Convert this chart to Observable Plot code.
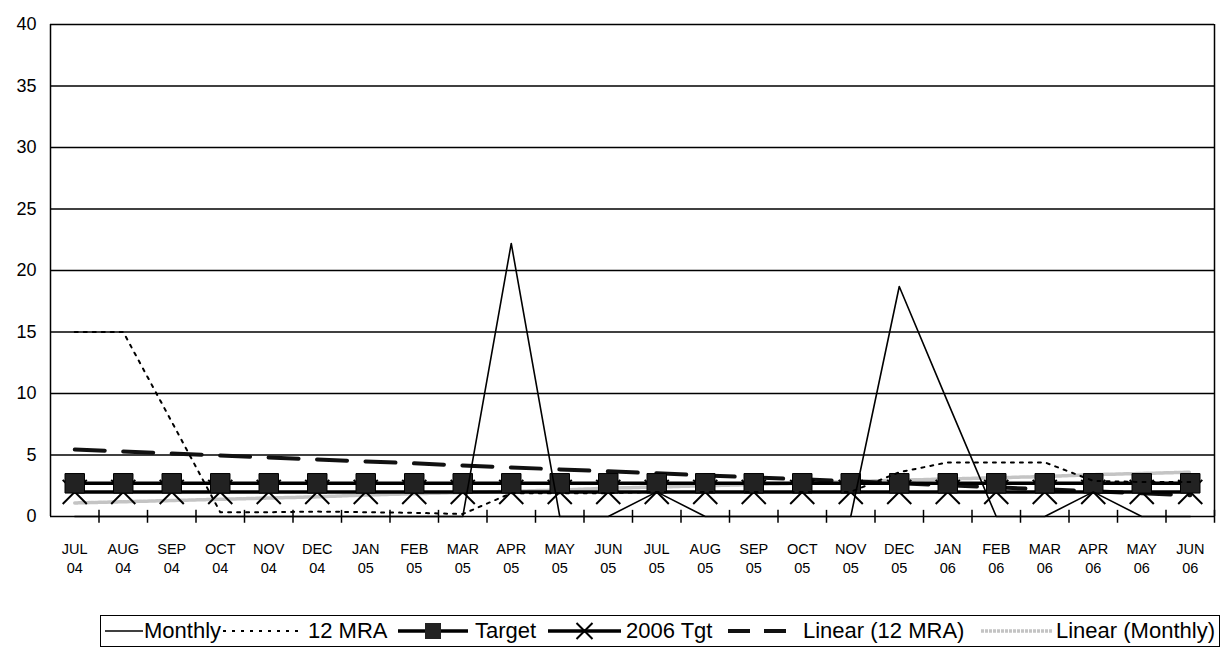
<!DOCTYPE html>
<html>
<head>
<meta charset="utf-8">
<script src="https://cdn.jsdelivr.net/npm/d3@7"></script>
<script src="https://cdn.jsdelivr.net/npm/@observablehq/plot@0.6"></script>
<style>
  html, body { margin: 0; padding: 0; background: #fff; }
  body { width: 1226px; height: 655px; position: relative; overflow: hidden; font-family: "Liberation Sans", Arial, sans-serif; }
  #chart { position: absolute; left: 0; top: 0; }
  #legend { position: absolute; left: 100px; top: 615px; width: 1118px; height: 30px; border: 1.5px solid #000;
            font-size: 22px; color: #000; box-sizing: content-box; }
  .sw { position: absolute; top: 2px; display: block; }
  .lt { position: absolute; top: 3px; line-height: 24px; white-space: nowrap; }
</style>
</head>
<body>
<div id="chart"></div>
<div id="legend"></div>
<script>
// ---- data ----
const months = ["JUL 04","AUG 04","SEP 04","OCT 04","NOV 04","DEC 04","JAN 05","FEB 05","MAR 05","APR 05","MAY 05","JUN 05",
                "JUL 05","AUG 05","SEP 05","OCT 05","NOV 05","DEC 05","JAN 06","FEB 06","MAR 06","APR 06","MAY 06","JUN 06"];
const monthly = [0,0,0,0,0,0,0,0,0,22.2,0,0,2,0,0,0,0,18.7,9.3,0,0,2,0,0];
const mra12 = [15,15,7.7,0.35,0.35,0.4,0.35,0.3,0.2,1.9,1.9,1.9,2.0,2.0,2.0,2.0,2.0,3.6,4.4,4.4,4.4,2.9,2.8,2.8];
const target = [2.7,2.7,2.7,2.7,2.7,2.7,2.7,2.7,2.7,2.7,2.7,2.7,2.7,2.7,2.7,2.7,2.7,2.7,2.7,2.7,2.7,2.7,2.7,2.7];
const tgt2006 = [2,2,2,2,2,2,2,2,2,2,2,2,2,2,2,2,2,2,2,2,2,2,2,2];
const linear12 = [5.45,5.29,5.13,4.96,4.8,4.64,4.48,4.32,4.15,3.99,3.83,3.67,3.51,3.34,3.18,3.02,2.86,2.7,2.54,2.37,2.21,2.05,1.89,1.73];
const linearMonthly = [1.1,1.2,1.3,1.4,1.5,1.6,1.75,1.85,1.95,2.05,2.15,2.3,2.4,2.5,2.6,2.7,2.85,2.95,3.05,3.15,3.25,3.4,3.5,3.6];
const yTicks = [0,5,10,15,20,25,30,35,40];
const seriesNames = ["Monthly","12 MRA","Target","2006 Tgt","Linear (12 MRA)","Linear (Monthly)"];

// ---- table ----
const rows = months.map((m, i) => ({
  i, label: m, monthly: monthly[i], mra12: mra12[i], target: target[i], tgt2006: tgt2006[i],
  linear12: linear12[i], linearMonthly: linearMonthly[i]
}));
const boundaries = months.map((m, i) => i + 0.5);

const chart = Plot.plot({
  width: 1226,
  height: 600,
  marginLeft: 50,
  marginRight: 12,
  marginTop: 24,
  marginBottom: 84,
  style: { fontFamily: "Liberation Sans, Arial, sans-serif", background: "#fff" },
  x: { domain: [-0.5, months.length - 0.5], axis: null },
  y: { domain: [0, 40], axis: null },
  marks: [
    Plot.ruleY(yTicks, { stroke: "#000", strokeWidth: 1.5 }),
    Plot.ruleX([-0.5, months.length - 0.5], { stroke: "#000", strokeWidth: 1.5 }),
    Plot.ruleX(boundaries, { x: d => d, y1: -0.55, y2: 0.5, stroke: "#000", strokeWidth: 1.5 }),
    Plot.text(yTicks, { x: -0.5, y: d => d, text: d => String(d), textAnchor: "end", dx: -14, fontSize: 18, fill: "#000" }),
    Plot.text(rows, { x: "i", y: 0, text: d => d.label.replace(" ", "\n"), lineAnchor: "top", dy: 24, lineHeight: 1.3, fontSize: 14.5, fill: "#000" }),
    // Linear (Monthly)
    Plot.line(rows, { x: "i", y: "linearMonthly", stroke: "#c4c4c4", strokeWidth: 3.5, strokeDasharray: "3,1" }),
    // Linear (12 MRA)
    Plot.line(rows, { x: "i", y: "linear12", stroke: "#111", strokeWidth: 4, strokeDasharray: "30,18.5" }),
    // 2006 Tgt
    Plot.line(rows, { x: "i", y: "tgt2006", stroke: "#000", strokeWidth: 3.5 }),
    Plot.dot(rows, { x: "i", y: "tgt2006", symbol: "times", r: 11, stroke: "#000", strokeWidth: 2 }),
    // Target
    Plot.line(rows, { x: "i", y: "target", stroke: "#000", strokeWidth: 3.5 }),
    Plot.dot(rows, { x: "i", y: "target", symbol: "square", r: 11, fill: "#222", stroke: "#000", strokeWidth: 1 }),
    // 12 MRA
    Plot.line(rows, { x: "i", y: "mra12", stroke: "#000", strokeWidth: 2, strokeDasharray: "3,6" }),
    // Monthly
    Plot.line(rows, { x: "i", y: "monthly", stroke: "#000", strokeWidth: 1.6 })
  ]
});
document.getElementById("chart").appendChild(chart);

// ---- legend ----
const NS = "http://www.w3.org/2000/svg";
function swatch(w, kind) {
  const s = document.createElementNS(NS, "svg");
  s.setAttribute("width", w); s.setAttribute("height", 26); s.setAttribute("class", "sw");
  const line = (attrs) => { const l = document.createElementNS(NS, "line");
    l.setAttribute("x1", 0); l.setAttribute("x2", w); l.setAttribute("y1", 13); l.setAttribute("y2", 13);
    for (const k in attrs) l.setAttribute(k, attrs[k]); s.appendChild(l); };
  if (kind === 0) line({ stroke: "#000", "stroke-width": 1.6 });
  if (kind === 1) line({ stroke: "#000", "stroke-width": 2, "stroke-dasharray": "3,6" });
  if (kind === 2) { line({ stroke: "#000", "stroke-width": 3.5 });
    const r = document.createElementNS(NS, "rect"); r.setAttribute("x", w/2-8); r.setAttribute("y", 5);
    r.setAttribute("width", 16); r.setAttribute("height", 16); r.setAttribute("fill", "#222"); s.appendChild(r); }
  if (kind === 3) { line({ stroke: "#000", "stroke-width": 3.5 });
    const p = document.createElementNS(NS, "path"); const c = w/2;
    p.setAttribute("d", `M${c-8},5L${c+8},21M${c-8},21L${c+8},5`); p.setAttribute("stroke", "#000"); p.setAttribute("stroke-width", 2); s.appendChild(p); }
  if (kind === 4) line({ stroke: "#111", "stroke-width": 4, "stroke-dasharray": "22,14", "stroke-dashoffset": -4 });
  if (kind === 5) line({ stroke: "#c4c4c4", "stroke-width": 3.5, "stroke-dasharray": "3,1" });
  return s;
}
const legend = document.getElementById("legend");
// [swatch left, swatch width, text left] relative to legend box
const layout = [[4, 38, 43], [122, 80, 207], [297, 70, 374], [447, 73, 525], [623, 72, 702], [880, 72, 955]];
seriesNames.forEach((name, k) => {
  const [sx, sw, tx] = layout[k];
  const s = swatch(sw, k); s.style.left = sx + "px";
  legend.appendChild(s);
  const t = document.createElement("span"); t.className = "lt"; t.textContent = name; t.style.left = tx + "px";
  legend.appendChild(t);
});
</script>
</body>
</html>
